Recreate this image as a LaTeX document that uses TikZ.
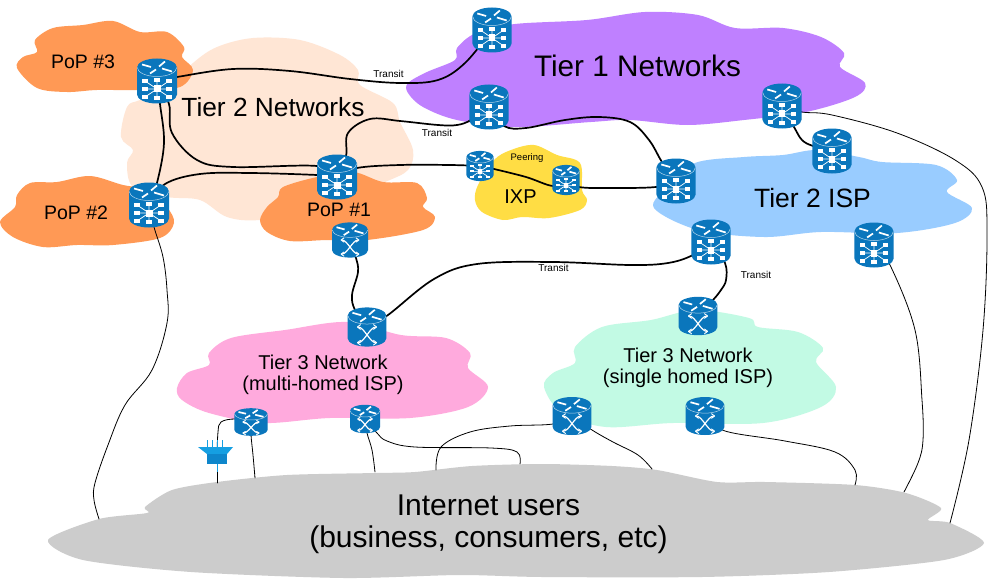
\documentclass[tikz,border=0pt]{standalone}
\usepackage{fontspec}
\setmainfont{Liberation Sans}
\definecolor{rblue}{HTML}{0A76BC}
\definecolor{fblue}{HTML}{159FE2}
\definecolor{cpop}{HTML}{FF9955}
\definecolor{cpeach}{HTML}{FFE6D5}
\definecolor{cpurple}{HTML}{BF80FF}
\definecolor{cisp}{HTML}{99CCFF}
\definecolor{cixp}{HTML}{FFDD44}
\definecolor{cpink}{HTML}{FFAADD}
\definecolor{cmint}{HTML}{C2FAE4}
\definecolor{cgrey}{HTML}{CCCCCC}
\tikzset{
 link/.style={draw=black,line width=1.7pt,line cap=round},
 thin link/.style={draw=black,line width=0.8pt,line cap=round},
 anchorbox/.style={inner sep=0pt,minimum width=#1,minimum height=#1,draw=none},
 lab/.style={inner sep=0pt,text=black,align=center},
 small/.style={lab,font=\fontsize{10}{12}\selectfont},
 cloudcurve/.style={smooth cycle,tension=.55},
 wire/.style={smooth,tension=.6},
}
% #1 half body height, #2 ellipse radius
\newcommand{\rbase}[2]{%
 \fill[rblue] (-20,-#1) arc[start angle=180,end angle=360,x radius=20,y radius=#2] -- (20,#1) arc[start angle=0,end angle=180,x radius=20,y radius=#2] -- cycle;
 \draw[white!70!rblue,line width=.5pt] (-19.7,-#1) arc[start angle=180,end angle=0,x radius=19.7,y radius=#2];
 \begin{scope}[shift={(0,-#1)}]
 \draw[white,line width=1.7pt] (-15,-3)--(-6,-.5) (2,-1)--(8,-6) (5,1)--(15,4) (-7,6)--(-1,2);
 \end{scope}
}
\newcommand{\hubicon}{%
 \fill[white] (-3.5,4.5) rectangle (3.5,11.5);
 \draw[white,line width=.7pt] (-12,8)--(12,8) (0,-1)--(0,17) (-12,0)--(12,16) (-12,16)--(12,0);
 \foreach \p/\q in {-12/8,12/8,-12/0,12/0,-12/16,12/16,0/-1,0/17}{\fill[white] (\p-2.7,\q-1.6) rectangle (\p+2.7,\q+1.6);}
}
\newcommand{\swicon}{%
 \draw[white,line width=1.2pt] (-9,0) .. controls (-3,0) and (3,16) .. (9,16) (-9,16) .. controls (-3,16) and (3,0) .. (9,0);
 \draw[white,line width=.9pt] (-10,0)--(-6.5,-2.5) (-10,0)--(-6.5,2.5) (10,16)--(6.5,13.5) (10,16)--(6.5,18.5) (-10,16)--(-6.5,13.5) (-10,16)--(-6.5,18.5) (10,0)--(6.5,-2.5) (10,0)--(6.5,2.5);
}
\newcommand{\hubdraw}[4]{\begin{scope}[shift={(#1,#2)},x=#3pt,y=-#4pt]\rbase{13.5}{9}\hubicon\end{scope}}
\newcommand{\swdraw}[4]{\begin{scope}[shift={(#1,#2)},x=#3pt,y=-#4pt]\rbase{11.5}{8.5}\swicon\end{scope}}
\begin{document}
\begin{tikzpicture}[x=1pt,y=-1pt]
\useasboundingbox (0,0) rectangle (1000,583);
\fill[white] (0,0) rectangle (1000,583);
% clouds
\fill[cpeach] plot[cloudcurve] coordinates {(121,137)(133,150)(127,163)(133,187)(167,197)(200,200)(227,217)(260,220)(320,210)(383,183)(408,170)(413,150)(400,122)(393,103)(360,85)(358,70)(340,55)(300,40)(253,38)(217,47)(193,63)(170,87)(140,100)(127,107)};
\fill[cpop] plot[cloudcurve] coordinates {(17,68)(23,57)(37,52)(35,40)(53,28)(83,25)(113,21)(140,32)(167,32)(184,47)(182,57)(193,70)(180,87)(140,90)(97,90)(67,92)(37,88)};
\fill[cpop] plot[cloudcurve] coordinates {(0,222)(15,207)(17,195)(30,183)(57,182)(90,176)(123,185)(150,190)(167,207)(174,223)(160,238)(113,245)(77,245)(43,247)(13,237)};
\fill[cpop] plot[cloudcurve] coordinates {(260,220)(267,207)(278,197)(283,187)(317,177)(353,172)(383,182)(417,183)(427,198)(423,207)(435,217)(423,230)(367,240)(327,240)(290,241)(267,232)};
\fill[cpurple] plot[cloudcurve] coordinates {(408,83)(427,72)(455,60)(457,48)(476,33)(515,24)(587,20)(645,12)(698,15)(735,28)(783,28)(821,37)(844,53)(840,67)(865,83)(855,97)(806,112)(744,120)(687,125)(630,120)(591,122)(515,127)(457,120)(423,107)(408,93)};
\fill[cisp] plot[cloudcurve] coordinates {(654,208)(668,187)(695,163)(744,157)(783,155)(817,150)(859,157)(882,162)(936,165)(957,180)(947,192)(972,208)(955,223)(897,233)(821,232)(764,237)(698,230)};
\fill[cixp] plot[cloudcurve] coordinates {(475,200)(478,185)(494,160)(511,150)(534,145)(557,155)(580,163)(582,190)(587,200)(580,210)(549,218)(522,217)(503,220)(482,212)};
\fill[cpink] plot[cloudcurve] coordinates {(177,388)(187,373)(209,365)(209,353)(231,338)(285,330)(347,322)(401,335)(446,338)(470,353)(468,368)(488,387)(468,407)(410,418)(330,418)(263,423)(209,413)(182,400)};
\fill[cmint] plot[cloudcurve] coordinates {(544,387)(553,373)(575,363)(575,347)(602,327)(651,320)(696,310)(749,318)(758,327)(798,332)(823,348)(816,362)(836,387)(821,407)(763,423)(673,423)(606,427)(562,413)};
\fill[cgrey] plot[smooth cycle,tension=.45] coordinates {(48,540)(99,519)(147,513)(145,507)(172,490)(217,482)(287,475)(376,473)(415,472)(472,466)(542,464)(612,466)(657,470)(717,482)(765,482)(855,485)(906,493)(941,508)(928,520)(950,523)(984,543)(944,560)(829,572)(702,577)(542,577)(459,575)(344,578)(191,572)(83,560)};
% anchor nodes
\node[anchorbox=30pt] (a) at (157,81) {};
\node[anchorbox=30pt] (b) at (149,205) {};
\node[anchorbox=30pt] (c) at (337,177) {};
\node[anchorbox=26pt] (d) at (350,240) {};
\node[anchorbox=30pt] (e) at (492,30) {};
\node[anchorbox=30pt] (f) at (489,107) {};
\node[anchorbox=20pt] (g) at (480,166) {};
\node[anchorbox=20pt] (h) at (566,180) {};
\node[anchorbox=30pt] (i) at (676,181) {};
\node[anchorbox=30pt] (j) at (782,106) {};
\node[anchorbox=30pt] (k) at (832,151) {};
\node[anchorbox=30pt] (l) at (874,245) {};
\node[anchorbox=30pt] (m) at (711,242) {};
\node[anchorbox=30pt] (n) at (698,316) {};
\node[anchorbox=30pt] (o) at (367,327) {};
\node[anchorbox=20pt] (p) at (251,422) {};
\node[anchorbox=20pt] (q) at (365,419) {};
\node[anchorbox=30pt] (r) at (572,416) {};
\node[anchorbox=30pt] (s) at (705,416) {};
\node[anchorbox=12pt] (t) at (217,456) {};
% connector ends on the users cloud
\coordinate (g1) at (99,519); \coordinate (g2) at (904,492); \coordinate (g3) at (950,523);
\coordinate (t1) at (217,483); \coordinate (p1) at (255,478); \coordinate (q1) at (375,472);
\coordinate (q2) at (520,464); \coordinate (r1) at (436,470); \coordinate (r2) at (652,469); \coordinate (s1) at (855,485);
% connectors
\draw[link] plot[wire] coordinates {(a.center)(177,77)(233,69)(290,71)(350,79)(400,83)(438,80)(465,63)(e.center)};
\draw[link] plot[wire] coordinates {(a.center)(160,104)(164,143)(157,183)(b.center)};
\draw[link] plot[wire] coordinates {(a.center)(169,104)(172,133)(197,160)(233,167)(317,166)(c.center)};
\draw[link] plot[wire] coordinates {(b.center)(165,184)(200,174)(250,173)(317,175)(c.center)};
\draw[link] plot[wire] coordinates {(c.center)(346,156)(348,133)(370,119)(400,121)(438,125)(457,125)(471,120)(f.center)};
\draw[link] plot[wire] coordinates {(c.center)(357,168)(400,165)(450,165)(g.center)};
\draw[link] plot[wire] coordinates {(g.center)(494,169)(526,177)(553,186)(h.center)};
\draw[link] plot[wire] coordinates {(h.center)(579,187)(610,188)(656,187)(i.center)};
\draw[link] plot[wire] coordinates {(f.center)(504,126)(526,128)(565,120)(599,117)(630,122)(649,140)(662,162)(i.center)};
\draw[link] plot[wire] coordinates {(j.center)(794,127)(802,140)(813,146)(k.center)};
\draw[link] plot[wire] coordinates {(d.center)(356,258)(358,272)(352,295)(355,310)(o.center)};
\draw[link] plot[wire] coordinates {(o.center)(388,315)(434,279)(477,264)(553,262)(630,265)(668,263)(693,255)(m.center)};
\draw[link] plot[wire] coordinates {(m.center)(725,263)(726,280)(721,290)(713,300)(n.center)};
\draw[thin link] plot[wire] coordinates {(j.center)(802,112)(832,115)(897,133)(955,160)(982,187)(987,233)(983,330)(969,440)(g3)};
\draw[thin link] plot[wire] coordinates {(l.center)(890,265)(915,330)(922,400)(923,440)(918,463)(g2)};
\draw[thin link] plot[wire] coordinates {(b.center)(154,227)(163,257)(167,290)(167,323)(152,370)(125,405)(108,445)(95,483)(94,500)(g1)};
\draw[thin link] plot[wire] coordinates {(p.center)(235,419)(221,422)(218,432)(t.center)};
\draw[thin link] (t.center) -- (t1);
\draw[thin link] plot[wire] coordinates {(p.center)(251,435)(253,455)(p1)};
\draw[thin link] plot[wire] coordinates {(q.center)(367,433)(372,450)(q1)};
\draw[thin link] plot[wire] coordinates {(q.center)(377,433)(387,441)(415,447)(491,448)(517,452)(q2)};
\draw[thin link] plot[wire] coordinates {(r1)(441,447)(470,432)(510,426)(553,424)(r.center)};
\draw[thin link] plot[wire] coordinates {(r.center)(592,430)(613,442)(638,455)(r2)};
\draw[thin link] plot[wire] coordinates {(s.center)(725,431)(785,441)(835,452)(855,470)(s1)};
% icons
\hubdraw{157}{81}{1}{1}
\hubdraw{149}{205}{1}{1}
\hubdraw{337}{177}{1}{1}
\swdraw{350}{240}{.9}{.88}
\hubdraw{492}{30}{.98}{1}
\hubdraw{489}{107}{.98}{1}
\hubdraw{480}{166}{.68}{.67}
\hubdraw{566}{180}{.68}{.67}
\hubdraw{676}{181}{.98}{1}
\hubdraw{782}{106}{.98}{1}
\hubdraw{832}{151}{.98}{1}
\hubdraw{874}{245}{.98}{1}
\hubdraw{711}{242}{.98}{1}
\swdraw{698}{316}{.97}{.96}
\swdraw{367}{327}{.97}{.98}
\swdraw{251}{422}{.83}{.69}
\swdraw{365}{419}{.75}{.71}
\swdraw{572}{416}{.97}{.95}
\swdraw{705}{416}{.97}{.95}
% funnel
\fill[fblue] (198,447) -- (233,447) -- (227,454) -- (207,454) -- cycle;
\fill[rblue!60!fblue] (207,454) rectangle (227,464);
\draw[fblue,line width=.7pt] (207,440)--(207,448) (212,440)--(212,448) (217,440)--(217,448) (222,440)--(222,448);
\draw[fblue,line width=.9pt] (217,464)--(217,472);
% text
\node[lab,font=\fontsize{19.5}{22}\selectfont] (tpop3) at (83,62) {PoP \#3};
\node[lab,font=\fontsize{19.5}{22}\selectfont] (tpop2) at (76,213) {PoP \#2};
\node[lab,font=\fontsize{19.5}{22}\selectfont] (tpop1) at (339,210) {PoP \#1};
\node[lab,font=\fontsize{26.3}{30}\selectfont] (tt2) at (273,107) {Tier 2 Networks};
\node[lab,font=\fontsize{29.7}{34}\selectfont] (tt1) at (637.5,66) {Tier 1 Networks};
\node[lab,font=\fontsize{26.5}{30}\selectfont] (tisp) at (812.5,198) {Tier 2 ISP};
\node[lab,font=\fontsize{20}{24}\selectfont] (tixp) at (520.5,197) {IXP};
\node[small,font=\fontsize{9.5}{12}\selectfont] (tpeer) at (527,158) {Peering};
\node[small] (tr1) at (388.5,74) {Transit};
\node[small] (tr2) at (437,133) {Transit};
\node[small] (tr3) at (553.5,268) {Transit};
\node[small] (tr4) at (756,275) {Transit};
\node[lab,font=\fontsize{20}{21}\selectfont] (tt3a) at (323,375) {Tier 3 Network\\(multi-homed ISP)};
\node[lab,font=\fontsize{20}{21}\selectfont] (tt3b) at (688,368) {Tier 3 Network\\(single homed ISP)};
\node[lab,font=\fontsize{30}{32}\selectfont] (tusers) at (488.5,524) {Internet users\\(business, consumers, etc)};
\end{tikzpicture}
\end{document}
